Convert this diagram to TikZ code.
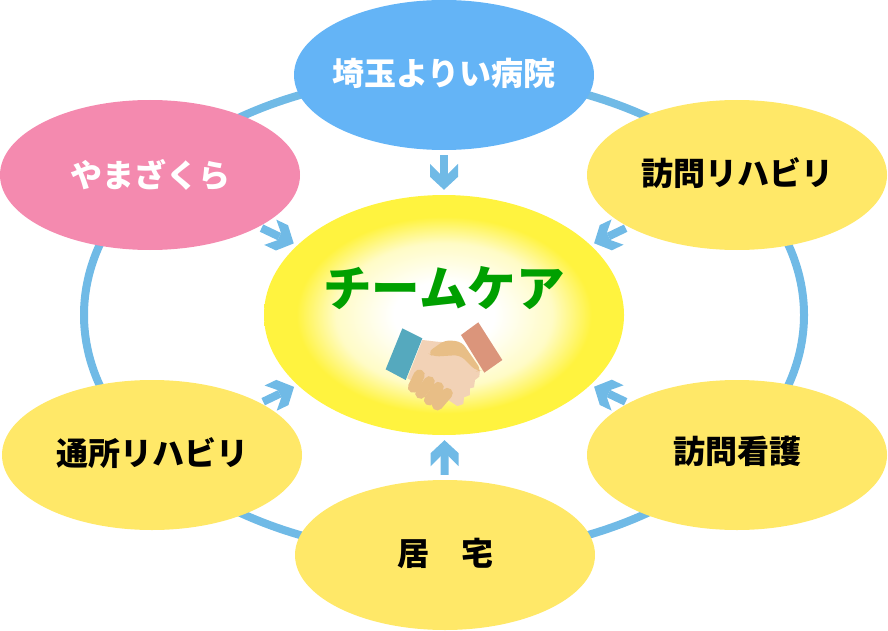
\documentclass[tikz,border=0pt]{standalone}
\usepackage{fontspec}
\setmainfont{Noto Sans CJK JP}
\usepackage{xcolor}
\usetikzlibrary{arrows.meta, shapes.geometric}

\definecolor{ringblue}{HTML}{70BAE6}
\definecolor{topblue}{HTML}{64B4F6}
\definecolor{sakurapink}{HTML}{F48AAF}
\definecolor{carddyellow}{HTML}{FFE868}
\definecolor{glowyellow}{HTML}{FFF33F}
\definecolor{teamgreen}{HTML}{00A000}
\definecolor{cuffblue}{HTML}{55A9BE}
\definecolor{cuffred}{HTML}{DB957B}
\definecolor{handskin}{HTML}{F2D2B6}
\definecolor{handtan}{HTML}{E8BE86}

\pgfdeclareradialshading{teamglow}{\pgfpoint{0bp}{0bp}}{%
	color(0bp)=(white);
	color(7bp)=(white);
	color(15bp)=(glowyellow!30!white);
	color(20.5bp)=(glowyellow);
	color(25bp)=(glowyellow);
	color(50bp)=(glowyellow)}

\pgfdeclarearrow{
	name=BluntHead,
	setup code={
		\pgfarrowssettipend{0pt}
		\pgfarrowssetlineend{-16pt}
		\pgfarrowssetvisualbackend{-17pt}
		\pgfarrowssetbackend{-26pt}
		\pgfarrowshullpoint{0pt}{0pt}
		\pgfarrowshullpoint{-26pt}{14pt}
		\pgfarrowshullpoint{-26pt}{-14pt}
	},
	drawing code={
		\pgfpathmoveto{\pgfqpoint{0pt}{0pt}}
		\pgfpathlineto{\pgfqpoint{-13pt}{14pt}}
		\pgfpathlineto{\pgfqpoint{-26pt}{14pt}}
		\pgfpathlineto{\pgfqpoint{-16pt}{4pt}}
		\pgfpathlineto{\pgfqpoint{-16pt}{-4pt}}
		\pgfpathlineto{\pgfqpoint{-26pt}{-14pt}}
		\pgfpathlineto{\pgfqpoint{-13pt}{-14pt}}
		\pgfpathclose
		\pgfusepathqfill
	},
}

\newcommand{\memtext}[2][6pt]{\raisebox{#1}{\makebox[0pt]{#2}}}

\tikzset{
	member/.style={ellipse, minimum width=300pt, minimum height=150pt, inner sep=0pt,
		font=\fontsize{32}{32}\selectfont\bfseries},
	yellowmember/.style={member, fill=carddyellow, text=black},
	ring/.style={ringblue, line width=8pt},
	toward/.style={ringblue, line width=8pt, -BluntHead},
}

\begin{document}
\begin{tikzpicture}[x=1pt, y=-1pt]
	\useasboundingbox (0,0) rectangle (888,631);

	% Ring
	\draw[ring] (444,315) ellipse [x radius=360, y radius=240];

	% Centre
	\node[ellipse, minimum width=360pt, minimum height=240pt, inner sep=0pt, shading=teamglow] (team) at (444,315) {};
	\node[font=\fontsize{48.5}{48.5}\selectfont\bfseries, text=teamgreen] (teamlabel) at (444,288) {チームケア};

	% Members
	\node[member, fill=topblue, text=white] (hospital) at (444,75) {\memtext{埼玉よりい病院}};
	\node[member, fill=sakurapink, text=white] (yama) at (150,175) {\memtext[4pt]{やまざくら}};
	\node[yellowmember] (visitrehab) at (737,175) {\memtext{訪問リハビリ}};
	\node[yellowmember] (dayrehab) at (152,455) {\memtext{通所リハビリ}};
	\node[yellowmember] (visitnurse) at (737,455) {\memtext[10pt]{訪問看護}};
	\node[yellowmember] (home) at (445,555) {\memtext{居　宅}};

	% Arrows
	\draw[toward, shorten <=5pt, shorten >=5pt] (hospital) -- (team);
	\draw[toward, shorten <=3pt, shorten >=4pt] (yama) -- (team);
	\draw[toward, shorten <=3pt, shorten >=4pt] (visitrehab) -- (team);
	\draw[toward, shorten <=3pt, shorten >=4pt] (dayrehab) -- (team);
	\draw[toward, shorten <=3pt, shorten >=4pt] (visitnurse) -- (team);
	\draw[toward, shorten <=5pt, shorten >=5pt] (home) -- (team);

	% Handshake
	\begin{scope}[shift={(370,300)}, x=0.3333pt, y=-0.3333pt]
		\fill[handskin] (157,120) -- (200,125) -- (275,130) -- (330,210) -- (328,230) -- (315,240)
			-- (312,262) -- (300,265) -- (300,285) -- (282,292) -- (280,312) -- (262,318) -- (235,300) -- (112,235) -- cycle;
		\fill[cuffblue] (97,85) -- (157,115) -- (107,240) -- (47,208) -- cycle;
		\fill[handtan, rounded corners=6pt] (172,158) -- (225,120) -- (275,125) -- (335,212) -- (320,214) -- (270,165) -- (190,170) -- cycle;
		\fill[cuffred] (325,67) -- (397,180) -- (343,218) -- (273,105) -- cycle;
		\foreach \ax/\ay/\bx/\by in {148/225/130/262, 178/245/152/280, 205/262/178/300, 232/280/202/315}
			\draw[handtan, line width=11pt, line cap=round] (\ax,\ay) -- (\bx,\by);
	\end{scope}
\end{tikzpicture}
\end{document}
